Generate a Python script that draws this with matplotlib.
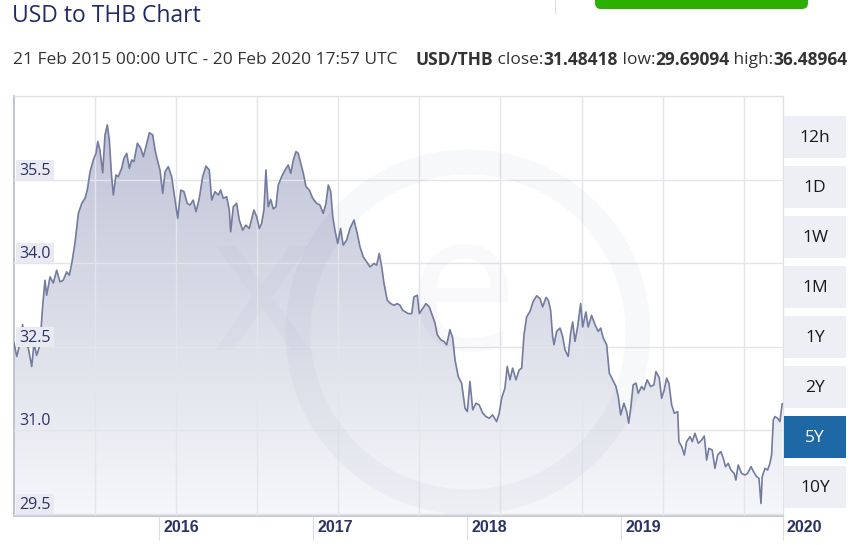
import numpy as np
import matplotlib
matplotlib.use("Agg")
import matplotlib.pyplot as plt
from matplotlib import font_manager
from matplotlib.patches import Rectangle, FancyBboxPatch, Circle
from matplotlib.colors import LinearSegmentedColormap
from matplotlib.transforms import Affine2D, blended_transform_factory

# USD/THB rate, x as decimal year
years = [
    2015.058, 2015.076, 2015.097, 2015.114, 2015.129, 2015.151, 2015.173, 2015.188, 2015.205, 2015.227,
    2015.242, 2015.259, 2015.270, 2015.292, 2015.313, 2015.335, 2015.357, 2015.378, 2015.400, 2015.417,
    2015.433, 2015.454, 2015.476, 2015.498, 2015.519, 2015.534, 2015.552, 2015.573, 2015.591, 2015.602,
    2015.616, 2015.634, 2015.649, 2015.664, 2015.677, 2015.692, 2015.703, 2015.720, 2015.735, 2015.757,
    2015.772, 2015.790, 2015.807, 2015.822, 2015.837, 2015.859, 2015.881, 2015.898, 2015.915, 2015.937,
    2015.959, 2015.974, 2015.989, 2016.006, 2016.024, 2016.039, 2016.060, 2016.082, 2016.104, 2016.121,
    2016.141, 2016.162, 2016.183, 2016.201, 2016.222, 2016.240, 2016.261, 2016.283, 2016.305, 2016.326,
    2016.342, 2016.363, 2016.385, 2016.400, 2016.417, 2016.439, 2016.456, 2016.465, 2016.482, 2016.504,
    2016.521, 2016.543, 2016.564, 2016.586, 2016.616, 2016.634, 2016.651, 2016.666, 2016.681, 2016.694,
    2016.709, 2016.725, 2016.742, 2016.759, 2016.774, 2016.796, 2016.818, 2016.839, 2016.855, 2016.872,
    2016.889, 2016.904, 2016.920, 2016.937, 2016.954, 2016.976, 2016.998, 2017.024, 2017.045, 2017.066,
    2017.084, 2017.099, 2017.115, 2017.128, 2017.142, 2017.160, 2017.179, 2017.196, 2017.218, 2017.240,
    2017.266, 2017.287, 2017.305, 2017.326, 2017.348, 2017.370, 2017.396, 2017.413, 2017.430, 2017.446,
    2017.461, 2017.482, 2017.504, 2017.526, 2017.547, 2017.565, 2017.582, 2017.618, 2017.641, 2017.655,
    2017.677, 2017.690, 2017.712, 2017.733, 2017.755, 2017.770, 2017.792, 2017.807, 2017.829, 2017.850,
    2017.868, 2017.889, 2017.907, 2017.922, 2017.943, 2017.965, 2017.987, 2018.002, 2018.019, 2018.037,
    2018.058, 2018.079, 2018.102, 2018.123, 2018.144, 2018.166, 2018.192, 2018.209, 2018.225, 2018.246,
    2018.261, 2018.279, 2018.296, 2018.318, 2018.339, 2018.355, 2018.370, 2018.387, 2018.409, 2018.430,
    2018.452, 2018.474, 2018.491, 2018.513, 2018.528, 2018.543, 2018.556, 2018.565, 2018.582, 2018.604,
    2018.621, 2018.636, 2018.657, 2018.673, 2018.686, 2018.701, 2018.718, 2018.738, 2018.751, 2018.772,
    2018.787, 2018.809, 2018.831, 2018.852, 2018.868, 2018.885, 2018.907, 2018.924, 2018.946, 2018.967,
    2018.982, 2018.998, 2019.019, 2019.037, 2019.050, 2019.063, 2019.079, 2019.097, 2019.112, 2019.134,
    2019.149, 2019.170, 2019.192, 2019.214, 2019.227, 2019.248, 2019.264, 2019.281, 2019.296, 2019.311,
    2019.329, 2019.346, 2019.368, 2019.376, 2019.394, 2019.411, 2019.426, 2019.448, 2019.463, 2019.480,
    2019.502, 2019.524, 2019.541, 2019.556, 2019.571, 2019.592, 2019.610, 2019.628, 2019.649, 2019.664,
    2019.679, 2019.696, 2019.714, 2019.735, 2019.746, 2019.761, 2019.783, 2019.805, 2019.822, 2019.844,
    2019.861, 2019.881, 2019.896, 2019.909, 2019.917, 2019.935, 2019.952, 2019.967, 2019.978, 2019.989,
    2020.000, 2020.017, 2020.032, 2020.047,
]
rates = [
    32.57, 32.33, 32.57, 32.90, 32.57, 32.48, 32.15, 32.57, 32.35, 32.54,
    33.16, 33.70, 33.43, 33.76, 33.65, 33.88, 33.67, 33.70, 33.85, 33.79,
    34.00, 34.37, 34.90, 35.08, 35.17, 35.32, 35.65, 35.86, 35.98, 36.19,
    36.04, 35.63, 36.31, 36.49, 36.22, 35.56, 35.23, 35.59, 35.56, 35.71,
    35.89, 35.98, 35.71, 35.86, 35.83, 36.16, 36.07, 35.92, 36.10, 36.35,
    36.31, 36.04, 35.86, 35.68, 35.26, 35.65, 35.74, 35.56, 35.14, 34.81,
    35.32, 35.29, 35.08, 35.05, 35.14, 34.93, 35.17, 35.56, 35.75, 35.68,
    35.14, 35.29, 35.23, 35.32, 35.17, 35.20, 34.96, 34.57, 35.02, 35.08,
    34.78, 34.60, 34.69, 34.63, 34.96, 34.84, 34.63, 34.72, 34.96, 35.68,
    35.02, 35.15, 34.98, 35.02, 35.41, 35.56, 35.68, 35.77, 35.62, 35.86,
    36.01, 35.98, 35.80, 35.62, 35.38, 35.32, 35.17, 35.08, 35.05, 34.90,
    35.08, 35.41, 35.29, 34.84, 34.60, 34.36, 34.63, 34.33, 34.42, 34.63,
    34.78, 34.54, 34.30, 34.12, 34.03, 33.94, 34.00, 33.97, 34.18, 33.94,
    33.64, 33.34, 33.28, 33.25, 33.28, 33.25, 33.16, 33.10, 33.10, 33.40,
    33.43, 33.10, 33.19, 33.28, 33.22, 33.10, 32.93, 32.72, 32.63, 32.60,
    32.54, 32.81, 32.66, 32.27, 31.97, 31.85, 31.40, 31.34, 31.88, 31.37,
    31.49, 31.46, 31.31, 31.25, 31.22, 31.28, 31.16, 31.31, 31.58, 31.76,
    32.15, 31.91, 32.12, 31.91, 32.09, 32.12, 32.72, 33.04, 33.14, 33.32,
    33.42, 33.37, 33.22, 33.39, 33.34, 33.16, 32.69, 32.54, 32.78, 32.84,
    32.69, 32.45, 32.33, 32.75, 32.95, 32.60, 32.86, 33.28, 32.86, 33.13,
    32.86, 33.07, 32.90, 32.78, 32.84, 32.66, 32.54, 32.03, 31.91, 31.79,
    31.61, 31.28, 31.49, 31.34, 31.13, 31.40, 31.82, 31.85, 31.67, 31.79,
    31.73, 31.91, 31.79, 31.82, 32.06, 31.95, 31.58, 31.73, 31.94, 31.85,
    31.46, 31.31, 31.34, 30.80, 30.71, 30.56, 30.80, 30.89, 30.80, 30.95,
    30.77, 30.83, 30.90, 30.47, 30.68, 30.65, 30.32, 30.56, 30.62, 30.50,
    30.35, 30.41, 30.29, 30.23, 30.11, 30.38, 30.23, 30.20, 30.23, 30.35,
    30.26, 30.17, 30.14, 29.69, 30.17, 30.32, 30.29, 30.41, 30.56, 31.19,
    31.25, 31.22, 31.16, 31.48,
]

y_ticks = [29.5, 31.0, 32.5, 34.0, 35.5]
y_labels = ["29.5", "31.0", "32.5", "34.0", "35.5"]
year_ticks = [2016, 2017, 2018, 2019, 2020]
year_labels = ["2016", "2017", "2018", "2019", "2020"]
buttons = ["12h", "1D", "1W", "1M", "1Y", "2Y", "5Y", "10Y"]
active_button = "5Y"

title = "USD to THB Chart"
period_text = "21 Feb 2015 00:00 UTC - 20 Feb 2020 17:57 UTC"
stats = [("USD/THB", "bold"), (" close:", "normal"), ("31.48418", "bold"),
         (" low:", "normal"), ("29.69094", "bold"), (" high:", "normal"), ("36.48964", "bold")]


def family_with_bold(candidates):
    # first family whose bold face really is a bold file
    for fam in candidates:
        try:
            path = font_manager.findfont(font_manager.FontProperties(family=fam, weight="bold"),
                                         fallback_to_default=False)
        except Exception:
            continue
        if "bold" in path.lower():
            return fam
    return "DejaVu Sans"


SANS = family_with_bold(["Noto Sans", "Open Sans", "Roboto", "Lato", "Liberation Sans"])

W, H = 853, 545
NAVY = "#1f2a6b"
LABEL = "#2b3366"
LINE = "#737b9f"

fig = plt.figure(figsize=(W / 100, H / 100), dpi=100)
fig.patch.set_facecolor("white")
# pixel coords measured from the top-left corner
px = Affine2D().scale(1 / W, -1 / H).translate(0, 1) + fig.transFigure

ax = fig.add_axes([14 / W, 29 / H, 769 / W, 420 / H])
x0, x1 = 2015.058, 2020.052
ax.set_xlim(x0, x1)
ax.set_ylim(29.464, 37.009)
ymin, ymax = ax.get_ylim()

# gradient area under the line
cmap = LinearSegmentedColormap.from_list("xe", ["#f6f7fa", "#bcc0d4"])
grad = np.linspace(1, 0, 256).reshape(-1, 1)
im = ax.imshow(grad, extent=[x0, x1, ymin, ymax], aspect="auto", cmap=cmap,
               vmin=0, vmax=1, origin="upper", zorder=1)
area = ax.fill_between(years, rates, ymin, facecolor="none", edgecolor="none")
im.set_clip_path(area.get_paths()[0], transform=ax.transData)
ax.plot(years, rates, color=LINE, lw=1.2, zorder=4, solid_joinstyle="round")

# faint xe watermark
ax.add_patch(Circle((468, 332), 170, transform=px, fill=False, lw=18,
                    edgecolor=NAVY, alpha=0.03, zorder=3))
fig.text(262 / W, 1 - 300 / H, "x", fontsize=140, family="Noto Sans",
         color=NAVY, alpha=0.02, ha="center", va="center")
fig.text(462 / W, 1 - 300 / H, "e", fontsize=140, family="Noto Sans",
         color=NAVY, alpha=0.025, ha="center", va="center")

# grid: horizontal at value ticks, vertical at fixed spacing
ax.set_axisbelow(False)
ax.set_yticks(y_ticks)
ax.set_yticklabels([])
ax.tick_params(axis="y", length=0)
ax.set_xticks(year_ticks[:-1] + [x1])
ax.set_xticklabels([])
ax.set_xticks(np.arange(2015.584, 2019.9, 0.5266), minor=True)
ax.tick_params(axis="x", which="major", length=17, width=0.8, color="#dcdde3", direction="out")
ax.tick_params(axis="x", which="minor", length=0)
ax.grid(axis="y", color="#e4e5ea", lw=1)
ax.grid(axis="x", which="minor", color="#e4e5ea", lw=1)
ax.grid(axis="x", which="major", visible=False)

for side in ["top", "right"]:
    ax.spines[side].set_color("#e0e1e6")
    ax.spines[side].set_linewidth(1)
ax.spines["left"].set_color("#b5b9cb")
ax.spines["left"].set_linewidth(1.2)
ax.spines["bottom"].set_color("#c8cad6")
ax.spines["bottom"].set_linewidth(1.5)

# value labels sitting on their gridline
lab_tr = blended_transform_factory(ax.transAxes, ax.transData)
for v, s in zip(y_ticks, y_labels):
    ax.add_patch(Rectangle((2 / 769, v), 38 / 769, 0.36, transform=lab_tr,
                           facecolor="#e9eaf1", edgecolor="none", zorder=5))
    ax.text(5 / 769, v + 0.17, s, transform=lab_tr, fontsize=11.5, family=SANS,
            color=LABEL, ha="left", va="center", zorder=6)

# year labels to the right of their tick
yr_tr = blended_transform_factory(ax.transData, ax.transAxes)
for yv, s in zip(year_ticks[:-1] + [x1], year_labels):
    ax.text(yv + 4 / 154, -12 / 420, s, transform=yr_tr, fontsize=11.5, fontweight="bold",
            family="Liberation Sans", color=LABEL, ha="left", va="center", clip_on=False)

# header
fig.text(12 / W, 1 - 16 / H, title, fontsize=16.5, family=SANS,
         color=NAVY, ha="left", va="center")
renderer = fig.canvas.get_renderer()
t = fig.text(13 / W, 1 - 60 / H, period_text, fontsize=12.5, family=SANS,
             color="#333333", ha="left", va="center")
xpos = t.get_window_extent(renderer).x1 + 18
for s, wt in stats:
    t = fig.text(xpos / W, 1 - 60 / H, s, fontsize=12.5, fontweight=wt, family=SANS,
                 color="#333333", ha="left", va="center")
    xpos = t.get_window_extent(renderer).x1

# top-right page bits
fig.add_artist(FancyBboxPatch((595, -12), 213, 21, boxstyle="round,pad=0,rounding_size=6",
                              transform=px, facecolor="#2bb000", edgecolor="none"))
fig.add_artist(Rectangle((555, 0), 1, 14, transform=px, facecolor="#dddddd", edgecolor="none"))

# range buttons
for i, b in enumerate(buttons):
    top = 116 + 50 * i
    active = b == active_button
    fig.add_artist(Rectangle((784, top), 62, 42, transform=px, edgecolor="none",
                             facecolor="#1f68a6" if active else "#eeeff4"))
    fig.text(815 / W, 1 - (top + 22) / H, b, fontsize=12.5, family=SANS,
             color="white" if active else "#1a1a1a", ha="center", va="center")

fig.savefig("out.png", dpi=100, facecolor="white")
